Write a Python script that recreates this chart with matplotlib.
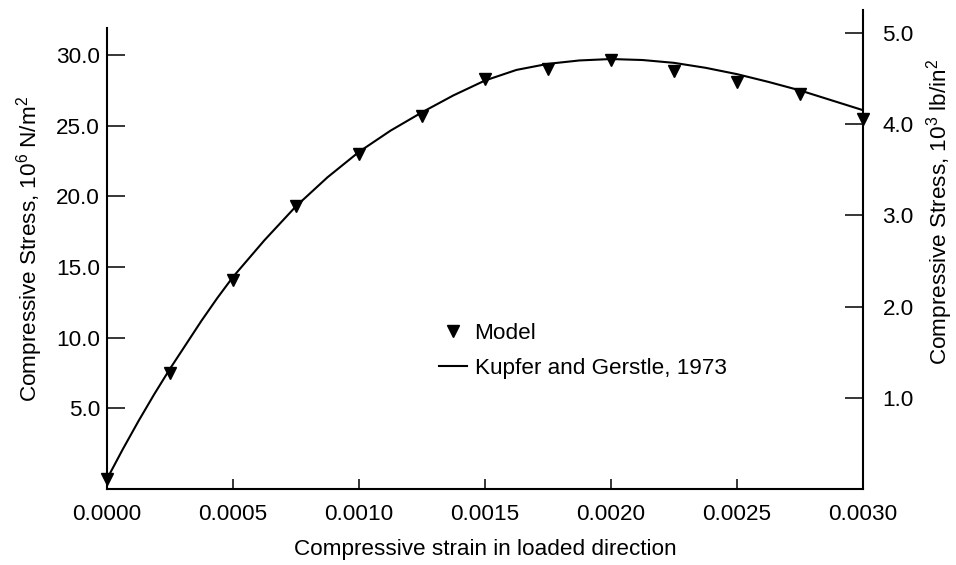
import matplotlib
matplotlib.use("Agg")
import matplotlib.pyplot as plt

plt.rcParams['font.family'] = ['Liberation Sans', 'DejaVu Sans']
plt.rcParams['mathtext.fontset'] = 'custom'
plt.rcParams['mathtext.rm'] = 'Liberation Sans'
plt.rcParams['mathtext.it'] = 'Liberation Sans:italic'

# Model points (strain, stress in 10^6 N/m^2)
model_strain = [0.0, 0.00025, 0.0005, 0.00075, 0.0010, 0.00125, 0.0015,
                0.00175, 0.0020, 0.00225, 0.0025, 0.00275, 0.0030]
model_stress = [0.0, 7.49, 14.09, 19.29, 23.0, 25.66, 28.33,
                29.04, 29.65, 28.9, 28.1, 27.27, 25.5]

# Kupfer and Gerstle, 1973 curve
kg_strain = [0.0, 0.0000625, 0.000125, 0.0001875, 0.00025, 0.0003125,
             0.000375, 0.0004375, 0.0005, 0.000625, 0.00075, 0.000875,
             0.0010, 0.001125, 0.00125, 0.001375, 0.0015, 0.001625,
             0.00175, 0.001875, 0.0020, 0.002125, 0.00225, 0.002375,
             0.0025, 0.002625, 0.00275, 0.002875, 0.0030]
kg_stress = [0.0, 2.1, 4.1, 6.0, 7.8, 9.5,
             11.2, 12.8, 14.3, 16.9, 19.3, 21.35,
             23.15, 24.65, 25.95, 27.15, 28.2, 28.95,
             29.38, 29.62, 29.72, 29.65, 29.45, 29.1,
             28.65, 28.1, 27.5, 26.8, 26.1]

left_ticks = [5.0, 10.0, 15.0, 20.0, 25.0, 30.0]
right_ticks = [1.0, 2.0, 3.0, 4.0, 5.0]
x_ticks = [0.0, 0.0005, 0.0010, 0.0015, 0.0020, 0.0025, 0.0030]

FS = 16.2
fig = plt.figure(figsize=(9.56, 5.65), dpi=100)
L, R, B, T = 107/956, 863/956, 1-489/565, 1-10/565
ax = fig.add_axes([L, B, R-L, T-B])

ax.plot(kg_strain, kg_stress, color='black', lw=1.5, label='Kupfer and Gerstle, 1973', zorder=3)
ax.plot(model_strain, model_stress, linestyle='none', marker='v', color='black',
        markersize=9, label='Model', zorder=4, clip_on=False)

ax.set_xlim(0, 0.003)
ax.set_ylim(-0.71, 33.19)
ax.spines['top'].set_visible(False)
ax.spines['right'].set_visible(False)
ax.spines['left'].set_bounds(-0.71, 31.9)
for s in ['left', 'bottom']:
    ax.spines[s].set_linewidth(1.5)

ax.set_xticks(x_ticks)
ax.set_xticklabels([f"{v:.4f}" for v in x_ticks])
ax.set_yticks(left_ticks)
ax.set_yticklabels([f"{v:.1f}" for v in left_ticks])
ax.tick_params(axis='y', direction='in', length=13, width=1.1, labelsize=FS, pad=5)
ax.tick_params(axis='x', direction='in', length=7.2, width=1.1, labelsize=FS, pad=11)

ax.set_xlabel('Compressive strain in loaded direction', fontsize=FS, labelpad=10)
ax.set_ylabel(r'Compressive Stress, 10$\mathregular{^6}$ N/m$\mathregular{^2}$', fontsize=FS, labelpad=8)

ax2 = ax.twinx()
ax2.set_ylim(0, 5.25)
for s in ['top', 'left', 'bottom']:
    ax2.spines[s].set_visible(False)
ax2.spines['right'].set_linewidth(1.5)
ax2.set_yticks(right_ticks)
ax2.set_yticklabels([f"{v:.1f}" for v in right_ticks])
ax2.tick_params(axis='y', direction='in', length=13, width=1.1, labelsize=FS, pad=14)
ax2.set_ylabel(r'Compressive Stress, 10$\mathregular{^3}$ lb/in$\mathregular{^2}$', fontsize=FS)
ax2.yaxis.set_label_coords(1.081, 0.578)

h, l = ax.get_legend_handles_labels()
leg = ax.legend([h[1], h[0]], [l[1], l[0]], loc='upper left',
                bbox_to_anchor=(439/956, 1-323/565), bbox_transform=fig.transFigure,
                frameon=False, fontsize=FS, borderpad=0, borderaxespad=0,
                handlelength=1.25, handletextpad=0.33, labelspacing=0.62)

fig.savefig('out.png', dpi=100)
